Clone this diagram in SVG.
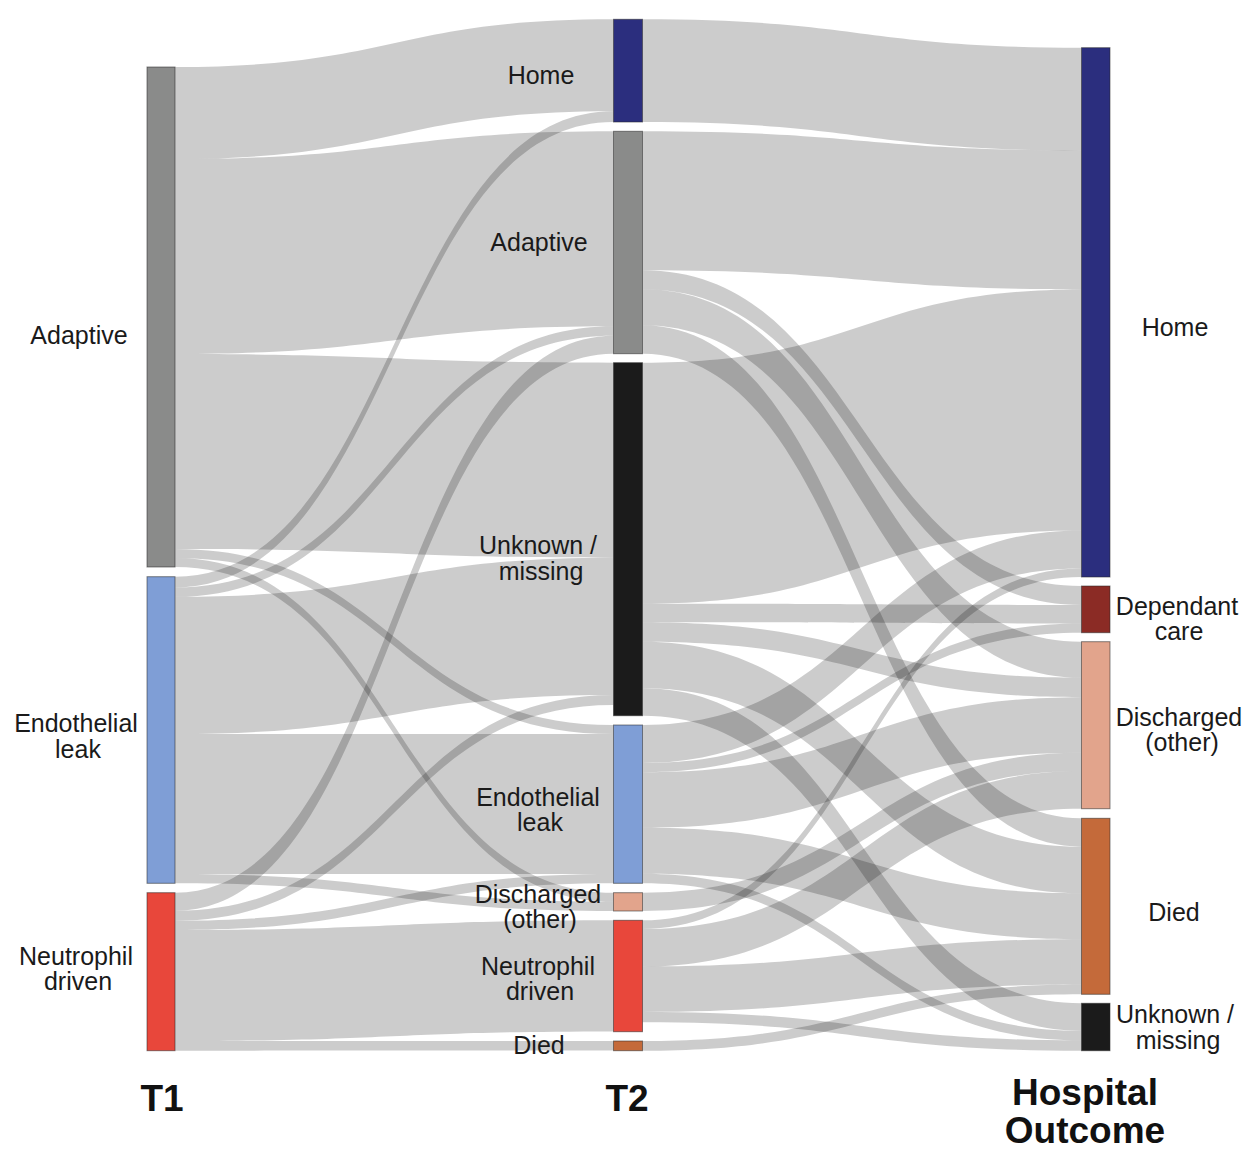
<svg xmlns="http://www.w3.org/2000/svg" width="1246" height="1149" viewBox="0 0 1246 1149">
<style>
.lk{fill:rgba(0,0,0,0.2);stroke:none}
.nd{stroke:rgba(40,40,40,0.55);stroke-width:1}
.lb{font-family:"Liberation Sans",Arial,sans-serif;font-size:25px;fill:#1a1a1a;text-anchor:middle}
.hd{font-family:"Liberation Sans",Arial,sans-serif;font-size:37px;font-weight:bold;fill:#111;text-anchor:middle}
</style>
<rect width="1246" height="1149" fill="#ffffff"/>
<g id="connectors">
<path class="lk" d="M175,67C394.25,67 394.25,19.3 613.5,19.3L613.5,111.3C394.25,111.3 394.25,159 175,159Z"/>
<path class="lk" d="M175,159C394.25,159 394.25,131.3 613.5,131.3L613.5,326.3C394.25,326.3 394.25,354 175,354Z"/>
<path class="lk" d="M175,354C394.25,354 394.25,362.7 613.5,362.7L613.5,557.7C394.25,557.7 394.25,549 175,549Z"/>
<path class="lk" d="M175,549C394.25,549 394.25,725 613.5,725L613.5,734C394.25,734 394.25,558 175,558Z"/>
<path class="lk" d="M175,558C394.25,558 394.25,892.7 613.5,892.7L613.5,901.7C394.25,901.7 394.25,567 175,567Z"/>
<path class="lk" d="M175,576.7C394.25,576.7 394.25,111.3 613.5,111.3L613.5,122C394.25,122 394.25,587.4 175,587.4Z"/>
<path class="lk" d="M175,587.4C394.25,587.4 394.25,326.3 613.5,326.3L613.5,335.7C394.25,335.7 394.25,596.8 175,596.8Z"/>
<path class="lk" d="M175,596.8C394.25,596.8 394.25,557.7 613.5,557.7L613.5,695C394.25,695 394.25,734.1 175,734.1Z"/>
<path class="lk" d="M175,734.1C394.25,734.1 394.25,734 613.5,734L613.5,874C394.25,874 394.25,874.1 175,874.1Z"/>
<path class="lk" d="M175,874.1C394.25,874.1 394.25,901.7 613.5,901.7L613.5,911C394.25,911 394.25,883.3 175,883.3Z"/>
<path class="lk" d="M175,892.7C394.25,892.7 394.25,335.7 613.5,335.7L613.5,353.7C394.25,353.7 394.25,910.7 175,910.7Z"/>
<path class="lk" d="M175,910.7C394.25,910.7 394.25,695 613.5,695L613.5,705C394.25,705 394.25,920.7 175,920.7Z"/>
<path class="lk" d="M175,920.7C394.25,920.7 394.25,874 613.5,874L613.5,883.3C394.25,883.3 394.25,930 175,930Z"/>
<path class="lk" d="M175,930C394.25,930 394.25,920.3 613.5,920.3L613.5,1031.4C394.25,1031.4 394.25,1041.1 175,1041.1Z"/>
<path class="lk" d="M175,1041.1C394.25,1041.1 394.25,1041 613.5,1041L613.5,1050.6C394.25,1050.6 394.25,1050.7 175,1050.7Z"/>
<path class="lk" d="M642.5,19.3C862,19.3 862,47.7 1081.5,47.7L1081.5,150.4C862,150.4 862,122 642.5,122Z"/>
<path class="lk" d="M642.5,131.3C862,131.3 862,150.4 1081.5,150.4L1081.5,289.4C862,289.4 862,270.3 642.5,270.3Z"/>
<path class="lk" d="M642.5,270.3C862,270.3 862,586 1081.5,586L1081.5,605C862,605 862,289.3 642.5,289.3Z"/>
<path class="lk" d="M642.5,289.3C862,289.3 862,641.7 1081.5,641.7L1081.5,677.7C862,677.7 862,325.3 642.5,325.3Z"/>
<path class="lk" d="M642.5,325.3C862,325.3 862,818.3 1081.5,818.3L1081.5,846.7C862,846.7 862,353.7 642.5,353.7Z"/>
<path class="lk" d="M642.5,362.7C862,362.7 862,289.4 1081.5,289.4L1081.5,530.4C862,530.4 862,603.7 642.5,603.7Z"/>
<path class="lk" d="M642.5,603.7C862,603.7 862,605 1081.5,605L1081.5,623.5C862,623.5 862,622.2 642.5,622.2Z"/>
<path class="lk" d="M642.5,622.2C862,622.2 862,677.7 1081.5,677.7L1081.5,697.2C862,697.2 862,641.7 642.5,641.7Z"/>
<path class="lk" d="M642.5,641.7C862,641.7 862,846.7 1081.5,846.7L1081.5,893.2C862,893.2 862,688.2 642.5,688.2Z"/>
<path class="lk" d="M642.5,688.2C862,688.2 862,1003.3 1081.5,1003.3L1081.5,1030.8C862,1030.8 862,715.7 642.5,715.7Z"/>
<path class="lk" d="M642.5,725C862,725 862,530.4 1081.5,530.4L1081.5,568.4C862,568.4 862,763 642.5,763Z"/>
<path class="lk" d="M642.5,763C862,763 862,623.5 1081.5,623.5L1081.5,632.7C862,632.7 862,772.2 642.5,772.2Z"/>
<path class="lk" d="M642.5,772.2C862,772.2 862,697.2 1081.5,697.2L1081.5,752.8C862,752.8 862,827.8 642.5,827.8Z"/>
<path class="lk" d="M642.5,827.8C862,827.8 862,893.2 1081.5,893.2L1081.5,939.2C862,939.2 862,873.8 642.5,873.8Z"/>
<path class="lk" d="M642.5,873.8C862,873.8 862,1030.8 1081.5,1030.8L1081.5,1040.3C862,1040.3 862,883.3 642.5,883.3Z"/>
<path class="lk" d="M642.5,892.7C862,892.7 862,752.8 1081.5,752.8L1081.5,771.1C862,771.1 862,911 642.5,911Z"/>
<path class="lk" d="M642.5,920.3C862,920.3 862,568.4 1081.5,568.4L1081.5,577C862,577 862,928.9 642.5,928.9Z"/>
<path class="lk" d="M642.5,928.9C862,928.9 862,771.1 1081.5,771.1L1081.5,808.7C862,808.7 862,966.5 642.5,966.5Z"/>
<path class="lk" d="M642.5,966.5C862,966.5 862,939.2 1081.5,939.2L1081.5,984.6C862,984.6 862,1011.9 642.5,1011.9Z"/>
<path class="lk" d="M642.5,1011.9C862,1011.9 862,1040.3 1081.5,1040.3L1081.5,1050.7C862,1050.7 862,1022.3 642.5,1022.3Z"/>
<path class="lk" d="M642.5,1041C862,1041 862,984.6 1081.5,984.6L1081.5,994.3C862,994.3 862,1050.7 642.5,1050.7Z"/>
</g>
<g id="t1-adaptive"><rect class="nd" x="147" y="67" width="28" height="500" fill="#8a8b8a"/><text class="lb" x="79" y="344">Adaptive</text></g>
<g id="t1-endothelial"><rect class="nd" x="147" y="576.7" width="28" height="306.6" fill="#7f9ed6"/><text class="lb" y="732"><tspan x="76">Endothelial</tspan><tspan x="78" dy="26">leak</tspan></text></g>
<g id="t1-neutrophil"><rect class="nd" x="147" y="892.7" width="28" height="158" fill="#e8473b"/><text class="lb" y="965"><tspan x="76">Neutrophil</tspan><tspan x="78" dy="25">driven</tspan></text></g>
<g id="t2-home"><rect class="nd" x="613.5" y="19.3" width="29" height="102.7" fill="#2b2e7e"/><text class="lb" x="541" y="84">Home</text></g>
<g id="t2-adaptive"><rect class="nd" x="613.5" y="131.3" width="29" height="222.4" fill="#8a8b8a"/><text class="lb" x="539" y="251">Adaptive</text></g>
<g id="t2-unknown"><rect class="nd" x="613.5" y="362.7" width="29" height="353" fill="#1b1b1b"/><text class="lb" y="554"><tspan x="538">Unknown /</tspan><tspan x="541" dy="26">missing</tspan></text></g>
<g id="t2-endothelial"><rect class="nd" x="613.5" y="725" width="29" height="158.3" fill="#7f9ed6"/><text class="lb" y="806"><tspan x="538">Endothelial</tspan><tspan x="540" dy="25">leak</tspan></text></g>
<g id="t2-discharged"><rect class="nd" x="613.5" y="892.7" width="29" height="18.3" fill="#e2a48c"/><text class="lb" y="903"><tspan x="538">Discharged</tspan><tspan x="540" dy="25">(other)</tspan></text></g>
<g id="t2-neutrophil"><rect class="nd" x="613.5" y="920.3" width="29" height="111.4" fill="#e8473b"/><text class="lb" y="975"><tspan x="538">Neutrophil</tspan><tspan x="540" dy="25">driven</tspan></text></g>
<g id="t2-died"><rect class="nd" x="613.5" y="1041" width="29" height="9.7" fill="#c46a3a"/><text class="lb" x="539" y="1054">Died</text></g>
<g id="o-home"><rect class="nd" x="1081.5" y="47.7" width="28.5" height="529.3" fill="#2b2e7e"/><text class="lb" x="1175" y="336">Home</text></g>
<g id="o-dependant"><rect class="nd" x="1081.5" y="586" width="28.5" height="46.7" fill="#8b2b25"/><text class="lb" y="615"><tspan x="1177">Dependant</tspan><tspan x="1179" dy="25">care</tspan></text></g>
<g id="o-discharged"><rect class="nd" x="1081.5" y="641.7" width="28.5" height="167" fill="#e2a48c"/><text class="lb" y="726"><tspan x="1179">Discharged</tspan><tspan x="1182" dy="25">(other)</tspan></text></g>
<g id="o-died"><rect class="nd" x="1081.5" y="818.3" width="28.5" height="176" fill="#c46a3a"/><text class="lb" x="1174" y="921">Died</text></g>
<g id="o-unknown"><rect class="nd" x="1081.5" y="1003.3" width="28.5" height="47.4" fill="#1b1b1b"/><text class="lb" y="1023"><tspan x="1175">Unknown /</tspan><tspan x="1178" dy="26">missing</tspan></text></g>
<g id="headers"><text class="hd" x="162" y="1111">T1</text><text class="hd" x="627" y="1111">T2</text><text class="hd" y="1105"><tspan x="1085">Hospital</tspan><tspan x="1085" dy="38">Outcome</tspan></text></g>
</svg>
